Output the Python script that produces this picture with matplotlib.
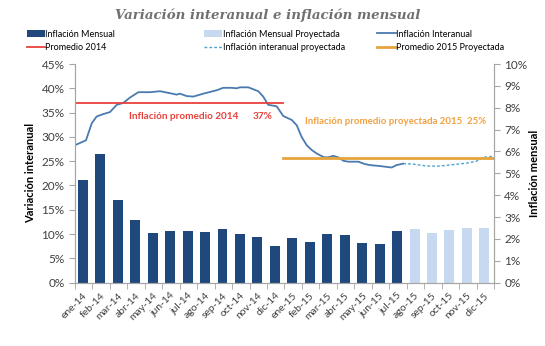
import matplotlib.pyplot as plt
import numpy as np
from matplotlib.ticker import FuncFormatter, MultipleLocator

plt.rcParams['font.family'] = ['Lato', 'DejaVu Sans']

# meses (etiquetas del eje x)
meses = ['ene-14', 'feb-14', 'mar-14', 'abr-14', 'may-14', 'jun-14', 'jul-14', 'ago-14',
         'sep-14', 'oct-14', 'nov-14', 'dic-14', 'ene-15', 'feb-15', 'mar-15', 'abr-15',
         'may-15', 'jun-15', 'jul-15', 'ago-15', 'sep-15', 'oct-15', 'nov-15', 'dic-15']

# inflacion mensual (%), eje derecho
mensual = [4.71, 5.87, 3.77, 2.85, 2.26, 2.36, 2.35, 2.30, 2.47, 2.24, 2.07, 1.66,
           2.03, 1.85, 2.23, 2.20, 1.80, 1.77, 2.35]
mensual_proy = [2.44, 2.27, 2.40, 2.50, 2.50]

# inflacion interanual (%), eje izquierdo; posicion en meses desde ene-14
t_inter = [0, 0.63, 0.96, 1.24, 1.62, 2.0, 2.39, 2.77, 3.15, 3.63, 4.3, 4.87, 5.44, 5.82,
           6.01, 6.4, 6.78, 7.35, 8.12, 8.49, 8.97, 9.26, 9.45, 9.93, 10.21, 10.5, 10.78,
           11.07, 11.55, 11.93, 12.41, 12.7, 12.98, 13.27, 13.56, 13.84, 14.26, 14.51,
           14.79, 15.08, 15.37, 15.65, 16.23, 16.61, 16.9, 17.47, 18.14, 18.42, 18.8]
interanual = [28.3, 29.3, 32.8, 34.2, 34.7, 35.1, 36.6, 37.0, 38.1, 39.2, 39.2, 39.4, 39.0,
              38.7, 38.9, 38.4, 38.3, 38.9, 39.6, 40.1, 40.1, 40.0, 40.2, 40.2, 39.8, 39.4,
              38.3, 36.6, 36.3, 34.3, 33.5, 32.4, 30.0, 28.3, 27.3, 26.6, 25.8, 25.8, 26.1,
              25.8, 25.1, 24.9, 24.9, 24.4, 24.2, 24.0, 23.7, 24.2, 24.5]
t_proy = [18.8, 19.37, 20.14, 20.9, 21.67, 22.43, 23.0, 23.38, 23.95]
interanual_proy = [24.5, 24.4, 24.0, 24.0, 24.3, 24.6, 25.0, 25.8, 26.0]

prom_2014 = 37.0
prom_2015 = 25.7

navy = '#1F487C'
light = '#C6D9F1'
line_blue = '#4A7AB0'
red = '#E8413B'
orange = '#E6A43B'
grey = '#A6A6A6'

fig = plt.figure(figsize=(5.45, 3.46), dpi=100)
ax2 = fig.add_axes([0.1376, 0.183, 0.7688, 0.632])
ax = ax2.twinx()
ax.yaxis.tick_left()
ax.yaxis.set_label_position('left')
ax2.yaxis.tick_right()
ax2.yaxis.set_label_position('right')
ax.set_zorder(ax2.get_zorder() + 1)
ax.patch.set_visible(False)

n = len(mensual)
x_real = np.arange(n) + 0.45
x_proy = np.arange(n, n + len(mensual_proy)) + 0.45
b1 = ax2.bar(x_real, mensual, width=0.57, color=navy)
b2 = ax2.bar(x_proy, mensual_proy, width=0.57, color=light)

l1, = ax.plot(t_inter, interanual, color=line_blue, lw=1.3)
l2, = ax.plot(t_proy, interanual_proy, color='#4BA3D0', lw=1.0, ls=(0, (2, 1.5)))
l3, = ax.plot([0, 11.9], [prom_2014, prom_2014], color=red, lw=1.3)
l4, = ax.plot([11.9, 24], [prom_2015, prom_2015], color=orange, lw=2.0)

ax.text(3.1, 34.1, 'Inflación promedio 2014', color=red, fontsize=7.2, fontweight='bold', va='center')
ax.text(10.2, 34.1, '37%', color=red, fontsize=7.2, fontweight='bold', va='center')
ax.text(13.2, 33.1, 'Inflación promedio proyectada 2015  25%', color='#F0A040', fontsize=6.9,
        fontweight='bold', va='center')

ax.set_xlim(0, 24)
ax.set_ylim(0, 45)
ax2.set_ylim(0, 10)
ax.yaxis.set_major_locator(MultipleLocator(5))
ax2.yaxis.set_major_locator(MultipleLocator(1))
pct = FuncFormatter(lambda v, p: '%d%%' % round(v))
ax.yaxis.set_major_formatter(pct)
ax2.yaxis.set_major_formatter(pct)

ax2.set_xticks(x_real.tolist() + x_proy.tolist())
ax2.set_xticklabels(meses, rotation=45, ha='right', rotation_mode='anchor', fontsize=7.5, color='#404040')
ax2.tick_params(axis='x', which='major', length=0, pad=6)
ax2.set_xticks(np.arange(0, 25), minor=True)
ax2.tick_params(axis='x', which='minor', length=4, color=grey)
ax.tick_params(axis='x', which='both', bottom=False, labelbottom=False)

for a in (ax, ax2):
    a.tick_params(axis='y', length=4, color=grey, labelsize=8.5, labelcolor='#404040')
    for s in a.spines.values():
        s.set_color(grey)
    a.spines['top'].set_visible(False)

ax.set_ylabel('Variación interanual', fontsize=8, fontweight='bold', labelpad=4)
ax2.set_ylabel('Inflación mensual', fontsize=8, fontweight='bold', labelpad=1)

# leyenda en tres columnas colocadas a mano
ley = [([b1, l3], ['Inflación Mensual', 'Promedio 2014'], 0.042),
       ([b2, l2], ['Inflación Mensual Proyectada', 'Inflación interanual proyectada'], 0.368),
       ([l1, l4], ['Inflación Interanual', 'Promedio 2015 Proyectada'], 0.686)]
for hs, ls, x0 in ley:
    fig.legend(hs, ls, loc='upper left', bbox_to_anchor=(x0, 0.925), frameon=False, fontsize=6.5,
               handlelength=2.0, handletextpad=0.1, labelspacing=0.5, borderaxespad=0)

fig.text(0.492, 0.955, 'Variación interanual e inflación mensual', ha='center', va='center',
         fontsize=9.6, fontstyle='italic', fontweight='bold', color='#707070', family='DejaVu Serif')

fig.savefig('out.png', dpi=100)
